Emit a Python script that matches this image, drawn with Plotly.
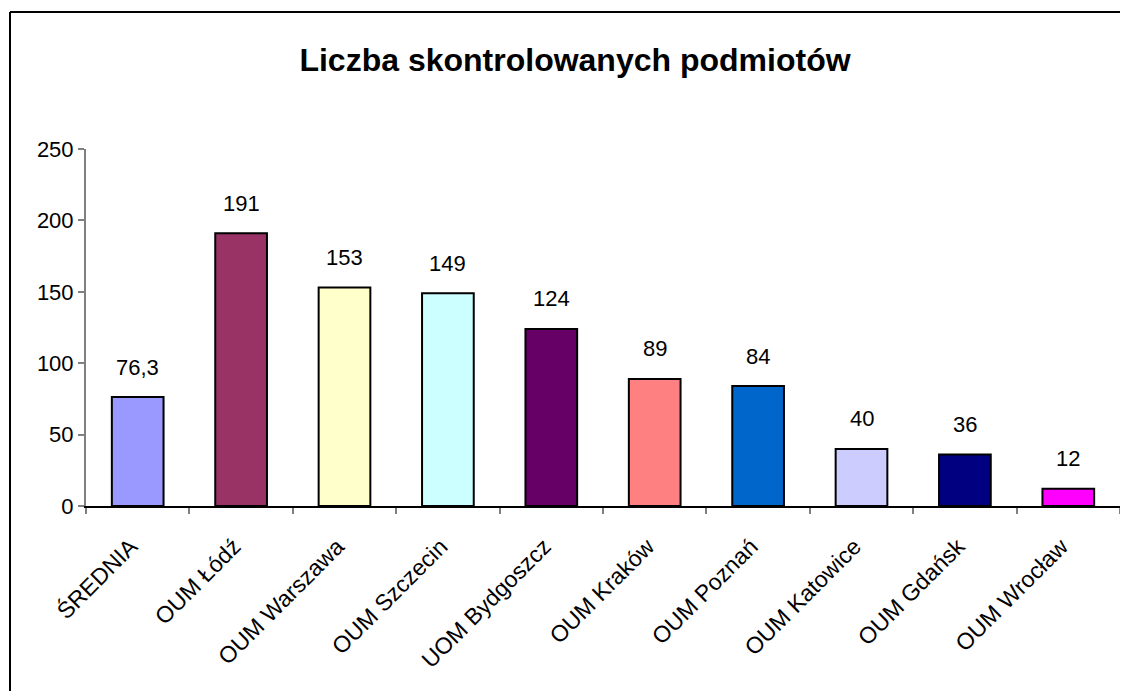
import plotly.graph_objects as go

categories = ["ŚREDNIA", "OUM Łódź", "OUM Warszawa", "OUM Szczecin", "UOM Bydgoszcz",
              "OUM Kraków", "OUM Poznań", "OUM Katowice", "OUM Gdańsk", "OUM Wrocław"]
values = [76.3, 191, 153, 149, 124, 89, 84, 40, 36, 12]
value_labels = ["76,3", "191", "153", "149", "124", "89", "84", "40", "36", "12"]
colors = ["#9999FF", "#993366", "#FFFFCC", "#CCFFFF", "#660066",
          "#FF8080", "#0066CC", "#CCCCFF", "#000080", "#FF00FF"]
y_ticks = [0, 50, 100, 150, 200, 250]

FONT = "Liberation Sans, Arial, sans-serif"

fig = go.Figure()
fig.add_trace(go.Bar(
    x=categories, y=values,
    marker=dict(color=colors, line=dict(color="#000000", width=2)),
    width=0.5,
    hoverinfo="x+y",
))

for c, v, t in zip(categories, values, value_labels):
    fig.add_annotation(x=c, y=v, text=t, showarrow=False, yshift=30,
                       font=dict(family=FONT, size=22, color="#000000"))

# page body has an 8px margin; figure coordinates are page coordinates minus 8
W, H = 1112, 683
ml, mr, mt, mb = 78, 0, 141, 185
pw = W - ml - mr
ph = H - mt - mb

# outer chart border (only left and top edges are visible), ending inside the figure
bx = (2 - ml) / pw
by = (H - mb - 4) / ph
fig.add_shape(type="line", xref="paper", yref="paper", x0=bx, x1=1.0,
              y0=by, y1=by, line=dict(color="#000000", width=2), layer="below")
fig.add_shape(type="line", xref="paper", yref="paper", x0=bx, x1=bx,
              y0=by, y1=-mb / ph, line=dict(color="#000000", width=2),
              layer="below")

fig.update_layout(
    width=W, height=H,
    margin=dict(l=ml, r=mr, t=mt, b=mb, autoexpand=False),
    paper_bgcolor="#FFFFFF", plot_bgcolor="#FFFFFF",
    showlegend=False,
    bargap=0.5,
    title=dict(text="<b>Liczba skontrolowanych podmiotów</b>", x=567 / W, xanchor="center",
               y=1 - 52 / H, yanchor="middle",
               font=dict(family=FONT, size=32, color="#000000")),
    font=dict(family=FONT, size=22, color="#000000"),
    xaxis=dict(type="category", showline=True, linecolor="#000000", linewidth=2,
               ticks="outside", tickson="boundaries", ticklen=6, tickcolor="#808080",
               tickwidth=2, tickangle=-45, showgrid=False, zeroline=False,
               ticklabelstandoff=16, ticklabelshift=-7,
               tickfont=dict(family=FONT, size=23, color="#000000")),
    yaxis=dict(range=[0, 250], tickvals=y_ticks, showline=True, linecolor="#808080",
               linewidth=2, ticks="outside", ticklen=6, tickcolor="#808080", tickwidth=2,
               showgrid=False, zeroline=False,
               tickfont=dict(family=FONT, size=22, color="#000000")),
)

fig.write_html("out.html")
